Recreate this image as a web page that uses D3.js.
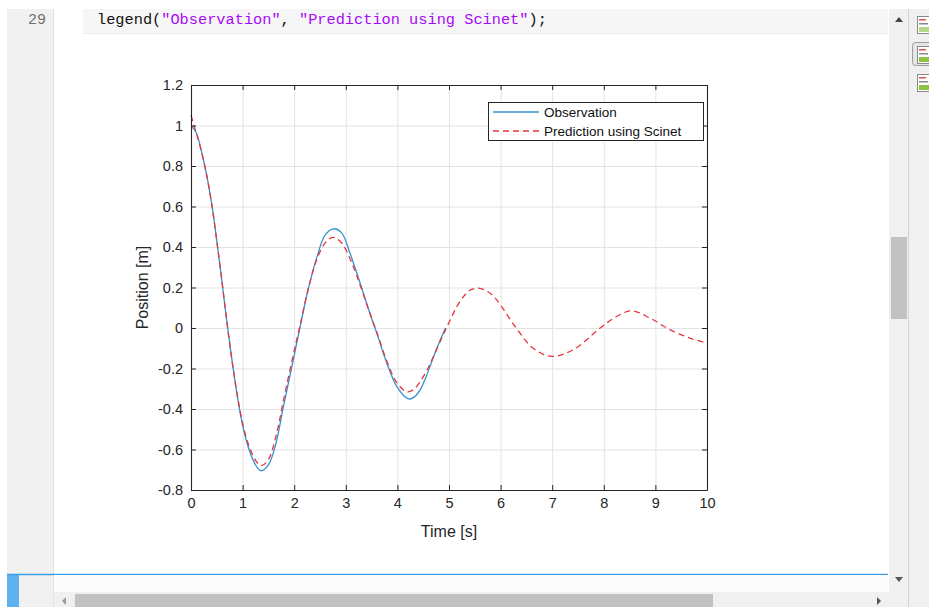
<!DOCTYPE html>
<html>
<head>
<meta charset="utf-8">
<script src="https://cdn.jsdelivr.net/npm/d3@7"></script>
<style>
  body { margin: 0; background: #fff; }
  svg { display: block; }
</style>
</head>
<body>
<svg id="chart"></svg>
<script>
// values
const obsT = [0, 0.10, 0.20, 0.30, 0.40, 0.50, 0.60, 0.70, 0.80, 0.90, 1.00, 1.10, 1.20, 1.30, 1.36, 1.50, 1.63, 1.79, 1.98, 2.11, 2.27, 2.44, 2.60, 2.76, 2.92, 3.08, 3.28, 3.47, 3.60, 3.79, 3.99, 4.21, 4.33, 4.44, 4.55, 4.66, 4.78, 4.89, 4.93];
const obsY = [1.00, 0.965, 0.875, 0.76, 0.615, 0.43, 0.23, 0.02, -0.17, -0.34, -0.48, -0.58, -0.65, -0.695, -0.705, -0.676, -0.586, -0.39, -0.16, 0.0, 0.19, 0.35, 0.46, 0.49, 0.47, 0.37, 0.22, 0.07, -0.025, -0.17, -0.29, -0.35, -0.34, -0.306, -0.245, -0.17, -0.09, -0.025, 0.0];

const predT = [0, 0.10, 0.20, 0.30, 0.40, 0.50, 0.60, 0.70, 0.80, 0.90, 1.00, 1.10, 1.20, 1.30, 1.37, 1.50, 1.66, 1.79, 1.98, 2.11, 2.27, 2.44, 2.60, 2.75, 2.92, 3.15, 3.28, 3.47, 3.60, 3.79, 3.99, 4.18, 4.31, 4.44, 4.57, 4.70, 4.95, 5.21, 5.40, 5.57, 5.75, 5.92, 6.28, 6.63, 6.99, 7.41, 7.93, 8.25, 8.54, 8.90, 9.28, 9.67, 10.0];
const predY = [1.05, 0.965, 0.875, 0.76, 0.615, 0.43, 0.23, 0.02, -0.17, -0.335, -0.47, -0.565, -0.63, -0.67, -0.68, -0.65, -0.52, -0.36, -0.135, 0.01, 0.19, 0.34, 0.42, 0.448, 0.42, 0.30, 0.21, 0.07, -0.02, -0.16, -0.27, -0.315, -0.305, -0.265, -0.21, -0.14, 0.0, 0.13, 0.185, 0.197, 0.18, 0.14, 0.008, -0.10, -0.14, -0.107, 0.0, 0.057, 0.085, 0.048, -0.008, -0.05, -0.075];

const seriesNames = ["Observation", "Prediction using Scinet"];
const xTicks = [0, 1, 2, 3, 4, 5, 6, 7, 8, 9, 10];
const yTicks = [-0.8, -0.6, -0.4, -0.2, 0, 0.2, 0.4, 0.6, 0.8, 1, 1.2];
const xLabel = "Time [s]";
const yLabel = "Position [m]";
const lineNumber = "29";
const codeParts = [
    { text: "legend(", kind: "code" },
    { text: "\"Observation\"", kind: "str" },
    { text: ", ", kind: "code" },
    { text: "\"Prediction using Scinet\"", kind: "str" },
    { text: ");", kind: "code" }
];

const width = 929, height = 607;
const svg = d3.select("#chart").attr("width", width).attr("height", height);

// ---------- editor chrome ----------
svg.append("rect").attr("width", width).attr("height", height).attr("fill", "#fff");

// line-number gutter
svg.append("rect").attr("x", 7).attr("y", 9).attr("width", 46).attr("height", height - 9).attr("fill", "#f1f1f1");
svg.append("line").attr("x1", 53.5).attr("x2", 53.5).attr("y1", 9).attr("y2", height).attr("stroke", "#e2e2e2");
svg.append("text").attr("x", 46).attr("y", 24).attr("text-anchor", "end")
    .attr("font-family", "Liberation Mono, DejaVu Sans Mono, monospace").attr("font-size", 15)
    .attr("fill", "#707070").text(lineNumber);

// code line box
svg.append("rect").attr("x", 83).attr("y", 9).attr("width", 805).attr("height", 25).attr("fill", "#f6f6f6");
svg.append("line").attr("x1", 83).attr("x2", 888).attr("y1", 33.5).attr("y2", 33.5).attr("stroke", "#ebebeb");
const code = svg.append("text").attr("x", 97).attr("y", 24)
    .attr("font-family", "Liberation Mono, DejaVu Sans Mono, monospace").attr("font-size", 15.3)
    .attr("xml:space", "preserve");
codeParts.forEach(p => {
    code.append("tspan").attr("fill", p.kind === "str" ? "#a709f5" : "#111").text(p.text);
});

// bottom divider and horizontal scrollbar
svg.append("rect").attr("x", 7).attr("y", 574).attr("width", 12).attr("height", height - 574).attr("fill", "#5fb2f2");
svg.append("line").attr("x1", 7).attr("x2", 888).attr("y1", 574.5).attr("y2", 574.5).attr("stroke", "#3c9ee4").attr("stroke-width", 1.3);
svg.append("rect").attr("x", 54).attr("y", 575).attr("width", 834).attr("height", 17).attr("fill", "#fcfcfc");
svg.append("rect").attr("x", 54).attr("y", 592).attr("width", 835).attr("height", 15).attr("fill", "#f0f0f0");
svg.append("rect").attr("x", 75).attr("y", 594).attr("width", 638).attr("height", 13).attr("fill", "#c2c2c2");
svg.append("path").attr("d", "M62,601 L66,597 L66,605 Z").attr("fill", "#9a9a9a");
svg.append("path").attr("d", "M881,601 L877,597 L877,605 Z").attr("fill", "#555");

// vertical scrollbar
svg.append("rect").attr("x", 889).attr("y", 9).attr("width", 19).attr("height", height - 9).attr("fill", "#f0f0f0");
svg.append("rect").attr("x", 891).attr("y", 237).attr("width", 16).attr("height", 82).attr("fill", "#c2c2c2");
svg.append("path").attr("d", "M899,17 L903,22 L895,22 Z").attr("fill", "#444");
svg.append("path").attr("d", "M899,582 L903,577 L895,577 Z").attr("fill", "#555");

// right tool strip
svg.append("rect").attr("x", 908).attr("y", 9).attr("width", 21).attr("height", height - 9).attr("fill", "#f0f0f0");
svg.append("line").attr("x1", 908.5).attr("x2", 908.5).attr("y1", 9).attr("y2", height).attr("stroke", "#d2d2d2");
svg.append("rect").attr("x", 912.5).attr("y", 42.5).attr("width", 20).attr("height", 23).attr("rx", 3)
    .attr("fill", "#e6e6e6").attr("stroke", "#9c9c9c");
[16, 46, 74].forEach((y, i) => {
    const ic = svg.append("g").attr("transform", `translate(917,${y})`);
    ic.append("rect").attr("x", 0.5).attr("y", 0.5).attr("width", 13).attr("height", 17).attr("fill", "#fff").attr("stroke", "#8a8a8a");
    ic.append("rect").attr("x", 2).attr("y", 3).attr("width", 7).attr("height", 1.5).attr("fill", "#d9534f");
    ic.append("rect").attr("x", 2).attr("y", 7).attr("width", 9).attr("height", 1.5).attr("fill", "#8a8a8a");
    ic.append("rect").attr("x", 2).attr("y", 11).attr("width", 10).attr("height", 5)
        .attr("fill", i === 0 ? "#b5d98a" : "#8cc63f");
});

// ---------- plot ----------
const box = { left: 191, right: 707, top: 85, bottom: 490 };
const x = d3.scaleLinear().domain([0, 10]).range([box.left, box.right]);
const y = d3.scaleLinear().domain([-0.8, 1.2]).range([box.bottom, box.top]);
const fmt = d => String(+d.toFixed(1));
const font = "Liberation Sans, Arial, Helvetica, sans-serif";

// grid
svg.append("g").attr("transform", `translate(0,${box.bottom})`)
    .call(d3.axisBottom(x).tickValues(xTicks).tickSize(-(box.bottom - box.top)).tickFormat(""))
    .call(g => g.select(".domain").remove())
    .call(g => g.selectAll("line").attr("stroke", "#e3e3e3"));
svg.append("g").attr("transform", `translate(${box.left},0)`)
    .call(d3.axisLeft(y).tickValues(yTicks).tickSize(-(box.right - box.left)).tickFormat(""))
    .call(g => g.select(".domain").remove())
    .call(g => g.selectAll("line").attr("stroke", "#e3e3e3"));

// series
const line = d3.line().x(d => x(d[0])).y(d => y(d[1])).curve(d3.curveCatmullRom.alpha(0.5));
const obs = obsT.map((t, i) => [t, obsY[i]]);
const pred = predT.map((t, i) => [t, predY[i]]);
const colors = ["#3493cd", "#e8343f"];

svg.append("path").datum(obs).attr("d", line).attr("fill", "none")
    .attr("stroke", colors[0]).attr("stroke-width", 1.3);
svg.append("path").datum(pred).attr("d", line).attr("fill", "none")
    .attr("stroke", colors[1]).attr("stroke-width", 1.3).attr("stroke-dasharray", "6,4");

// axes with inward ticks on all four sides
const axisStyle = g => {
    g.select(".domain").attr("stroke", "#262626").attr("stroke-width", 1.1);
    g.selectAll(".tick line").attr("stroke", "#262626");
    g.selectAll("text").attr("font-family", font).attr("font-size", 14.5).attr("fill", "#262626");
};
svg.append("g").attr("transform", `translate(0,${box.bottom})`)
    .call(d3.axisBottom(x).tickValues(xTicks).tickSizeInner(-5).tickSizeOuter(0).tickPadding(8).tickFormat(fmt))
    .call(axisStyle);
svg.append("g").attr("transform", `translate(${box.left},0)`)
    .call(d3.axisLeft(y).tickValues(yTicks).tickSizeInner(-5).tickSizeOuter(0).tickPadding(8).tickFormat(fmt))
    .call(axisStyle);
svg.append("g").attr("transform", `translate(0,${box.top})`)
    .call(d3.axisTop(x).tickValues(xTicks).tickSizeInner(-5).tickSizeOuter(0).tickFormat(""))
    .call(axisStyle);
svg.append("g").attr("transform", `translate(${box.right},0)`)
    .call(d3.axisRight(y).tickValues(yTicks).tickSizeInner(-5).tickSizeOuter(0).tickFormat(""))
    .call(axisStyle);

// axis labels
svg.append("text").attr("x", (box.left + box.right) / 2).attr("y", 537).attr("text-anchor", "middle")
    .attr("font-family", font).attr("font-size", 16).attr("fill", "#262626").text(xLabel);
svg.append("text").attr("transform", `translate(148,${(box.top + box.bottom) / 2}) rotate(-90)`)
    .attr("text-anchor", "middle").attr("font-family", font).attr("font-size", 16).attr("fill", "#262626").text(yLabel);

// legend
const leg = svg.append("g").attr("transform", "translate(488,102)");
leg.append("rect").attr("x", 0.5).attr("y", 0.5).attr("width", 215).attr("height", 38)
    .attr("fill", "#fff").attr("stroke", "#262626");
seriesNames.forEach((name, i) => {
    const ly = 10 + i * 19;
    leg.append("line").attr("x1", 5).attr("x2", 51).attr("y1", ly).attr("y2", ly)
        .attr("stroke", colors[i]).attr("stroke-width", 1.3)
        .attr("stroke-dasharray", i === 1 ? "6,4" : null);
    leg.append("text").attr("x", 56).attr("y", ly + 4.5)
        .attr("font-family", font).attr("font-size", 13.5).attr("fill", "#111").text(name);
});
</script>
</body>
</html>
